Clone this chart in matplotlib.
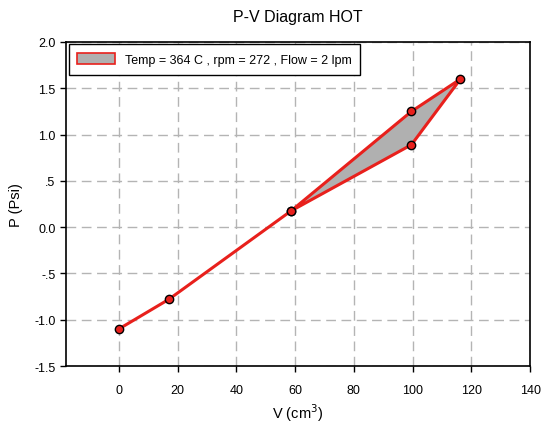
import matplotlib.pyplot as plt
from matplotlib.patches import Patch

plt.rcParams['font.family'] = ['Liberation Sans', 'DejaVu Sans']

# volume / pressure path through the cycle
volume = [0, 17, 58.6, 99.6, 116.3, 99.6, 58.6]
pressure = [-1.10, -0.78, 0.175, 1.25, 1.60, 0.89, 0.175]
loop_start = 2  # index where the closed loop begins

y_ticks = [-1.5, -1.0, -0.5, 0.0, 0.5, 1.0, 1.5, 2.0]
y_labels = ['-1.5', '-1.0', '-.5', '0.0', '.5', '1.0', '1.5', '2.0']
x_ticks = [0, 20, 40, 60, 80, 100, 120, 140]

legend_text = 'Temp = 364 C , rpm = 272 , Flow = 2 lpm'
red = '#e8201c'


def plot_pv():
    fig = plt.figure(figsize=(5.42, 4.27), dpi=100)
    ax = fig.add_axes([0.1218, 0.1405, 0.8562, 0.7588])

    ax.fill(volume[loop_start:], pressure[loop_start:], color='#b0b0b0', zorder=2)
    ax.plot(volume, pressure, color=red, lw=2.2, zorder=3)
    ax.plot(volume, pressure, 'o', ms=6, mfc=red, mec='black', mew=1.0, zorder=4)

    ax.set_xlim(-18, 140)
    ax.set_ylim(-1.5, 2.0)
    ax.set_xticks(x_ticks)
    ax.set_yticks(y_ticks)
    ax.set_yticklabels(y_labels)
    ax.tick_params(labelsize=9, direction='out', length=4, width=1, colors='black')
    ax.tick_params(axis='x', pad=9)
    ax.grid(True, color='#b4b4b4', ls=(0, (7, 4)), lw=1.0, zorder=1)
    for s in ax.spines.values():
        s.set_linewidth(1.2)

    ax.set_xlabel('V (cm$^3$)', fontsize=10.5, labelpad=4)
    ax.set_ylabel('P (Psi)', fontsize=10.5, labelpad=8)
    ax.set_title('P-V Diagram HOT', fontsize=11.5, pad=15)

    handle = Patch(facecolor='#b0b0b0', edgecolor=red, lw=1.2)
    leg = ax.legend([handle], [legend_text], loc='upper left', fontsize=9,
                    fancybox=False, framealpha=1, edgecolor='black',
                    borderaxespad=0.2, handlelength=3.0, handleheight=1.0,
                    borderpad=0.7)
    leg.get_frame().set_linewidth(1.0)

    fig.savefig('out.png', dpi=100)


if __name__ == '__main__':
    plot_pv()
